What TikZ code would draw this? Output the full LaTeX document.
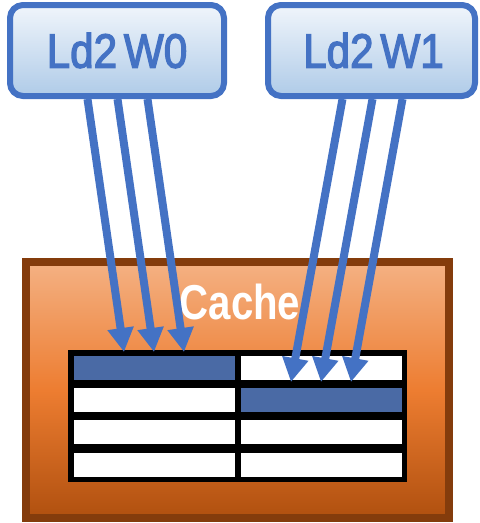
\documentclass[tikz,border=0pt]{standalone}
\usepackage{fontspec}
\setmainfont{Liberation Sans}
\newfontfamily\labelfont[FakeBold=3]{Liberation Sans}
\usetikzlibrary{arrows.meta}

\definecolor{accent}{HTML}{4472C4}
\definecolor{boxtop}{HTML}{F0F5FB}
\definecolor{boxbot}{HTML}{AFCBE8}
\definecolor{cachetop}{HTML}{F4B183}
\definecolor{cachemid}{HTML}{ED7D31}
\definecolor{cachebot}{HTML}{B0500F}
\definecolor{cacheedge}{HTML}{843C0C}
\definecolor{lineblue}{HTML}{4A6AA5}

\tikzset{
  loadbox/.style={draw=accent, line width=6pt, rounded corners=13pt,
    top color=boxtop, bottom color=boxbot, inner sep=0pt},
  loadtext/.style={text=accent, font=\labelfont\fontsize{48}{50}\selectfont},
  cell/.style={fill=white, draw=none, inner sep=0pt, minimum width=161pt, minimum height=24pt},
  hitcell/.style={cell, fill=lineblue},
  flow/.style={draw=accent, line width=8pt,
    -{Triangle[width=25pt,length=24pt]}},
}

\begin{document}
\begin{tikzpicture}[x=1pt,y=-1pt]
\useasboundingbox (0,0) rectangle (480,523);

% cache block
\path[top color=cachetop, bottom color=cachebot, middle color=cachemid,
      draw=cacheedge, line width=8pt]
  (26,262) rectangle (449,518);
\node[text=white, font=\bfseries\fontsize{49}{51}\selectfont] (cachelabel) at (240,302)
  {\scalebox{0.82}[1]{Cache}};

% cache lines: black frame with two ways of four sets
\fill[black] (68,350) rectangle (407,482);
\foreach \r/\y in {1/368, 2/400, 3/432, 4/464.5} {
  \node[cell] (left\r) at (154.5,\y) {};
  \node[cell] (right\r) at (321.5,\y) {};
}
\node[hitcell] (left1) at (154.5,368) {};
\node[hitcell] (right2) at (321.5,400) {};

% load instructions
\node[loadbox, minimum width=214pt, minimum height=91pt] (w0) at (117,50.5) {};
\node[loadtext] at (w0.center) {\scalebox{0.88}[1]{Ld2\hspace{0.16em}W0}};
\node[loadbox, minimum width=207pt, minimum height=91pt] (w1) at (371.5,50.5) {};
\node[loadtext] at ([xshift=2pt]w1.center) {\scalebox{0.88}[1]{Ld2\hspace{0.16em}W1}};

% arrow end points
\coordinate (a1) at (87.5,99);  \coordinate (a2) at (117.5,99); \coordinate (a3) at (147.5,99);
\coordinate (b1) at (342.5,99); \coordinate (b2) at (372.5,99); \coordinate (b3) at (402.5,99);
\coordinate (ta1) at (124,352); \coordinate (ta2) at (154,352); \coordinate (ta3) at (184,352);
\coordinate (tb1) at (291,382); \coordinate (tb2) at (321,382); \coordinate (tb3) at (351,382);

\foreach \i in {1,2,3} {
  \draw[flow] (a\i) -- (ta\i);
  \draw[flow] (b\i) -- (tb\i);
}
\end{tikzpicture}
\end{document}
